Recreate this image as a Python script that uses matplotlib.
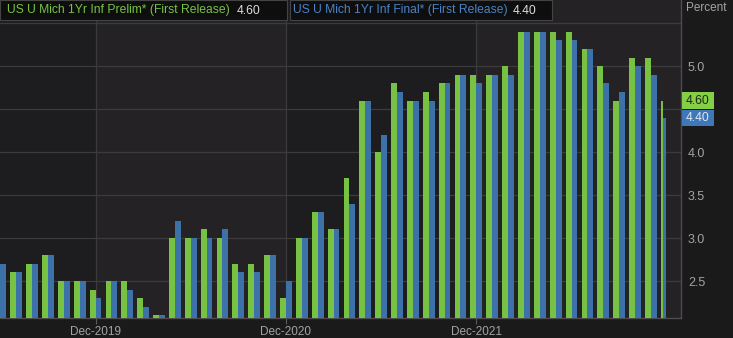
import numpy as np
import pandas as pd
import matplotlib
matplotlib.use("Agg")
import matplotlib.pyplot as plt
from matplotlib.patches import Rectangle
from matplotlib.transforms import blended_transform_factory

# monthly readings, Jun-2019 .. Dec-2022
months = pd.period_range("2019-06", "2022-12", freq="M")
prelim = [2.6, 2.6, 2.7, 2.8, 2.5, 2.5, 2.4,
          2.5, 2.5, 2.3, 2.1, 3.0, 3.0, 3.1, 3.0, 2.7, 2.7, 2.8, 2.3,
          3.0, 3.3, 3.1, 3.7, 4.6, 4.0, 4.8, 4.6, 4.7, 4.8, 4.9, 4.9,
          4.9, 5.0, 5.4, 5.4, 5.4, 5.4, 5.2, 5.0, 4.6, 5.1, 5.1, 4.6]
final = [2.7, 2.6, 2.7, 2.8, 2.5, 2.5, 2.3,
         2.5, 2.4, 2.2, 2.1, 3.2, 3.0, 3.0, 3.1, 2.6, 2.6, 2.8, 2.5,
         3.0, 3.3, 3.1, 3.4, 4.6, 4.2, 4.7, 4.6, 4.6, 4.8, 4.9, 4.8,
         4.9, 4.9, 5.4, 5.4, 5.3, 5.3, 5.2, 4.8, 4.7, 5.0, 4.9, 4.4]
prelim_name = "US U Mich 1Yr Inf Prelim* (First Release)"
final_name = "US U Mich 1Yr Inf Final* (First Release)"
y_ticks = [2.5, 3.0, 3.5, 4.0, 4.5, 5.0, 5.5]
hidden_ticks = [4.5, 5.5]   # covered by the value tags / top edge

GREEN = "#77c243"
BLUE = "#3d72a8"
BG = "#1a1a1b"
DARK = "#1d1c1e"
LIGHT = "#242225"
GRID = "#3b3a3c"
TXT = "#a3a3a3"

plt.rcParams["font.family"] = ["Liberation Sans", "DejaVu Sans"]

W, H = 733, 338
fig = plt.figure(figsize=(W / 100, H / 100), dpi=100, facecolor=BG)
ax = fig.add_axes([0, 20 / H, 681 / W, 1 - 20 / H])
ax.set_facecolor(DARK)

x = np.arange(len(months))
bw = 0.37
scale = np.ones(len(months))
scale[-1] = 0.4  # latest month drawn thinner
ax.bar(x - bw, prelim, width=bw * scale, align="edge", color=GREEN, zorder=3)
ax.bar(x - bw + bw * scale, final, width=bw * scale, align="edge", color=BLUE, zorder=3)

# December ticks and alternating year bands
dec_idx = [i for i, m in enumerate(months) if m.month == 12 and m.year < 2022]
x0, x1 = -0.02, 42.9
bounds = [x0] + dec_idx + [x1]
for k in range(len(bounds) - 1):
    if k % 2 == 1:
        ax.axvspan(bounds[k], bounds[k + 1], color=LIGHT, zorder=0, lw=0)
for d in dec_idx:
    ax.axvline(d, color=GRID, lw=0.9, zorder=1)

ax.set_xlim(x0, x1)
ax.set_ylim(2.07, 5.77)
ax.set_xticks(dec_idx)
ax.set_xticklabels([months[i].strftime("%b-%Y") for i in dec_idx])
ax.tick_params(axis="x", colors="#5a5a5a", labelcolor=TXT, labelsize=8.5, length=4, pad=1.5)

ax.yaxis.tick_right()
ax.set_yticks(y_ticks)
ax.set_yticklabels(["" if v in hidden_ticks else f"{v:.1f}" for v in y_ticks])
ax.tick_params(axis="y", colors=TXT, labelsize=9, length=0, pad=5)
ax.grid(axis="y", color=GRID, lw=0.9, zorder=1)

for s in ["top", "left"]:
    ax.spines[s].set_visible(False)
for s in ["bottom", "right"]:
    ax.spines[s].set_color("#4d4d4d")
    ax.spines[s].set_linewidth(1)

# legend boxes across the top
def px(xp, yp):
    return xp / W, 1 - yp / H

for (l, r) in [(0, 287), (290, 552)]:
    fig.patches.append(Rectangle(px(l, 20), (r - l) / W, 20 / H, transform=fig.transFigure,
                                 facecolor="#0e0e0f", edgecolor="#444444", lw=0.8, zorder=5))
fs = 8.7
fig.text(*px(7, 10.5), prelim_name, color=GREEN, fontsize=fs, va="center", zorder=6)
fig.text(*px(237, 10.5), f"{prelim[-1]:.2f}", color="#dcdcdc", fontsize=fs, va="center", zorder=6)
fig.text(*px(293, 10.5), final_name, color="#4a82c4", fontsize=fs, va="center", zorder=6)
fig.text(*px(513, 10.5), f"{final[-1]:.2f}", color="#dcdcdc", fontsize=fs, va="center", zorder=6)
fig.text(*px(686, 8), "Percent", color=TXT, fontsize=8.5, va="center")

# last-value tags on the right axis
tr = blended_transform_factory(ax.transAxes, ax.transData)
tag_w = 32 / 681
tag_h = 0.19
for val, fc, tc in [(prelim[-1], "#84cf45", "#1e2a14"), (final[-1], "#3e78ba", "#dfe6ee")]:
    ax.add_patch(Rectangle((1 + 1 / 681, val - tag_h / 2), tag_w, tag_h, transform=tr,
                           facecolor=fc, edgecolor="none", clip_on=False, zorder=7))
    ax.text(1 + 1 / 681 + tag_w / 2, val, f"{val:.2f}", transform=tr, ha="center",
            va="center", fontsize=8.7, color=tc, zorder=8, clip_on=False)

fig.savefig("out.png", dpi=100, facecolor=BG)
